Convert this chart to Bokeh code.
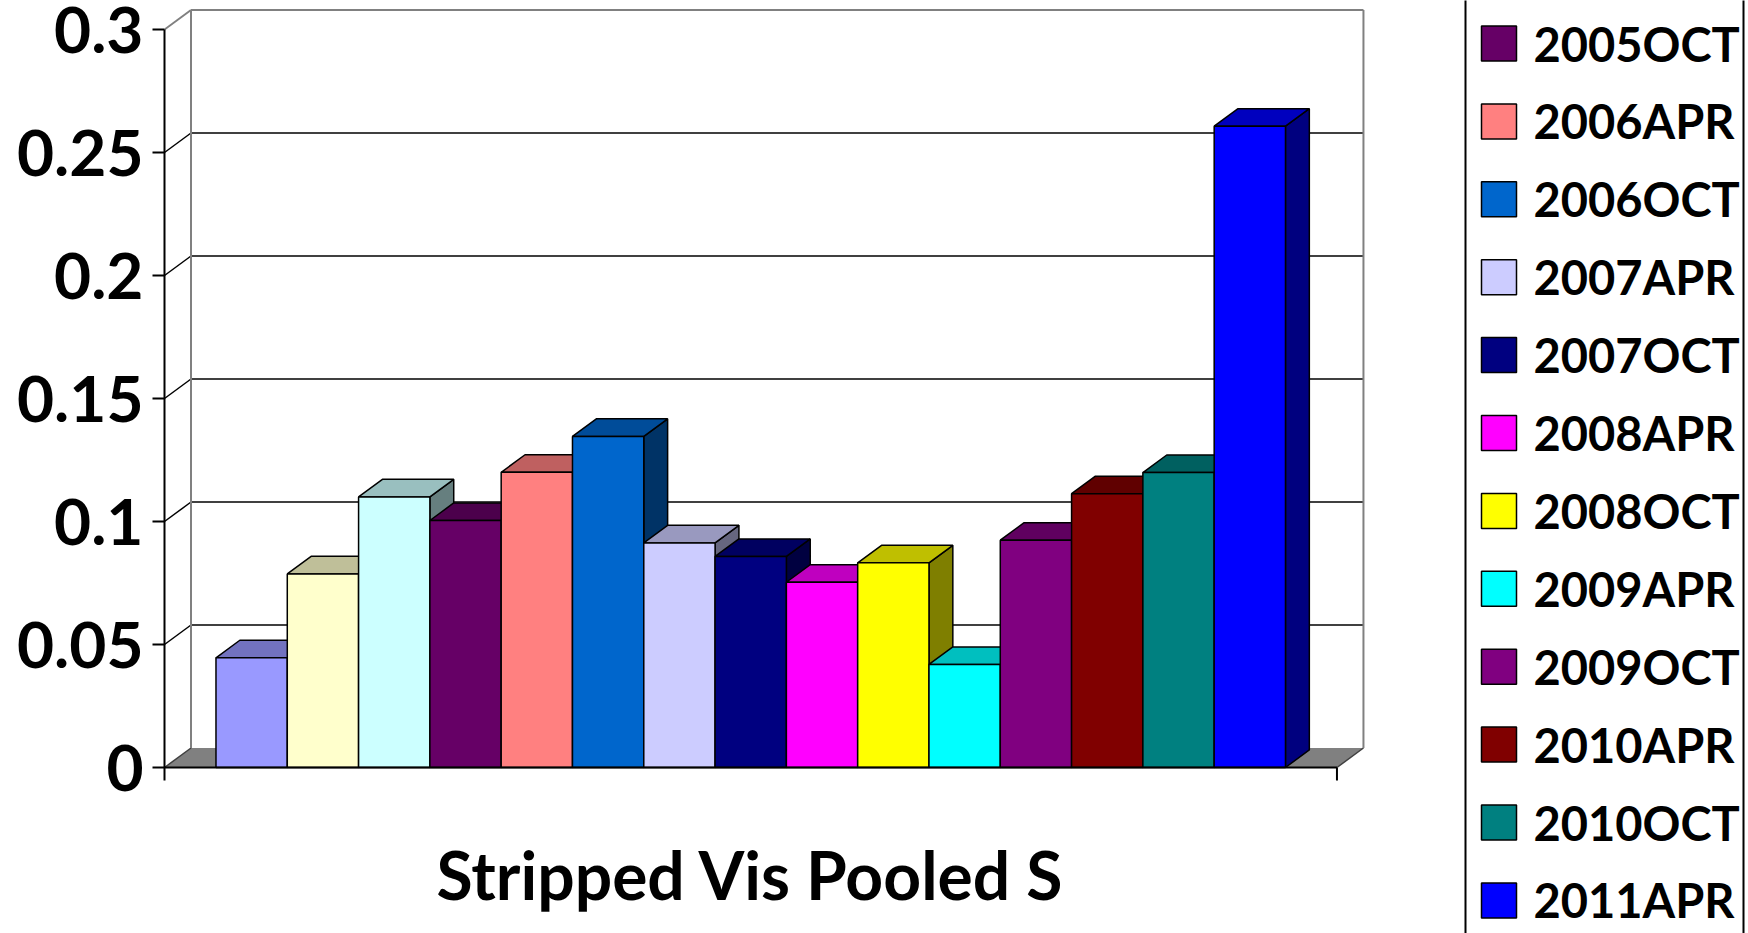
from bokeh.plotting import figure
from bokeh.models import Range1d, LinearAxis, FixedTicker
from bokeh.core.properties import value
from bokeh.embed import file_html
from bokeh.resources import INLINE

# ---- data -------------------------------------------------------------
category = "Stripped Vis Pooled S"
surveys = ["2004APR", "2004OCT", "2005APR", "2005OCT", "2006APR", "2006OCT",
           "2007APR", "2007OCT", "2008APR", "2008OCT", "2009APR", "2009OCT",
           "2010APR", "2010OCT", "2011APR"]
results = [0.0446, 0.0787, 0.110, 0.1004, 0.120, 0.1346, 0.0913, 0.0858,
           0.0753, 0.0832, 0.0419, 0.0924, 0.1113, 0.1199, 0.2607]
colors = ["#9999FF", "#FFFFCC", "#CCFFFF", "#660066", "#FF8080", "#0066CC",
          "#CCCCFF", "#000080", "#FF00FF", "#FFFF00", "#00FFFF", "#800080",
          "#800000", "#008080", "#0000FF"]
y_ticks = [0.0, 0.05, 0.1, 0.15, 0.2, 0.25, 0.3]
y_tick_labels = ["0", "0.05", "0.1", "0.15", "0.2", "0.25", "0.3"]

# ---- layout (screen pixels) --------------------------------------------
W, H = 1748, 933
PLOT_LEFT = 164          # front value axis
BASE_PX = 767            # screen row of value 0
BAR_PX = 71.3            # width of one column
VAL_PX = 2460.0          # pixels per value unit
GAP = 0.722              # side gap, in column widths
DEPTH_PX = (26.5, 19.5)  # floor / wall depth offset
BAR_DEPTH = 0.9          # column depth relative to the floor
TICK_PX = 13
FONT = "Lato"


def px_x(px):
    return -GAP + (px - PLOT_LEFT) / BAR_PX


def px_y(py):
    return (BASE_PX - py) / VAL_PX


def shade(hex_color, k):
    r, g, b = (int(hex_color[i:i + 2], 16) for i in (1, 3, 5))
    return "#%02X%02X%02X" % (int(r * k), int(g * k), int(b * k))


x_range = Range1d(-GAP, -GAP + (W - PLOT_LEFT) / BAR_PX)
y_range = Range1d(-(H - BASE_PX) / VAL_PX, BASE_PX / VAL_PX)

p = figure(width=W, height=H, x_range=x_range, y_range=y_range,
           x_axis_type=None, y_axis_type=None, toolbar_location=None,
           output_backend="svg", min_border_left=PLOT_LEFT, min_border_right=0,
           min_border_top=0, min_border_bottom=0, outline_line_color=None,
           background_fill_color="white", border_fill_color="white")

yaxis = LinearAxis(
    ticker=FixedTicker(ticks=y_ticks),
    bounds=(-TICK_PX / VAL_PX, y_ticks[-1]),
    major_label_overrides={t: s for t, s in zip(y_ticks, y_tick_labels)},
    major_tick_out=12, major_tick_in=0, minor_tick_out=0, minor_tick_in=0,
    axis_line_width=2, axis_line_color="black",
    major_tick_line_width=2, major_tick_line_color="black",
    major_label_standoff=9, major_label_text_font=FONT,
    major_label_text_font_style="bold", major_label_text_font_size="64px",
    major_label_text_color="black")
p.add_layout(yaxis, "left")

n = len(results)
dx, dy = DEPTH_PX[0] / BAR_PX, DEPTH_PX[1] / VAL_PX
bdx, bdy = dx * BAR_DEPTH, dy * BAR_DEPTH
x0, x1 = -GAP, n + GAP
top = y_ticks[-1]

# floor
p.patch([x0, x1, x1 + dx, x0 + dx], [0, 0, dy, dy],
        fill_color="#808080", line_color=None)
p.segment(x0=[x0, x1], y0=[0, 0], x1=[x0 + dx, x1 + dx], y1=[dy, dy],
          line_color="#404040", line_width=1.5)

# gridlines on the back wall and the left wall
inner = [t for t in y_ticks if 0 < t < top]
p.segment(x0=[x0 + dx] * len(inner), y0=[t + dy for t in inner],
          x1=[x1 + dx] * len(inner), y1=[t + dy for t in inner],
          line_color="black", line_width=1.5)
p.segment(x0=[x0] * len(inner), y0=inner,
          x1=[x0 + dx] * len(inner), y1=[t + dy for t in inner],
          line_color="black", line_width=1.5)

# wall edges
p.multi_line(xs=[[x0 + dx, x0 + dx], [x1 + dx, x1 + dx], [x0 + dx, x1 + dx], [x0, x0 + dx]],
             ys=[[dy, top + dy], [dy, top + dy], [top + dy, top + dy], [top, top + dy]],
             line_color="#808080", line_width=2)

# 3-D columns: side, top and front face of each, painted left to right
xs, ys, fills = [], [], []
for i, (v, c) in enumerate(zip(results, colors)):
    xs.append([i + 1, i + 1 + bdx, i + 1 + bdx, i + 1])
    ys.append([0, bdy, v + bdy, v])
    fills.append(shade(c, 0.5))
    xs.append([i, i + 1, i + 1 + bdx, i + bdx])
    ys.append([v, v, v + bdy, v + bdy])
    fills.append(shade(c, 0.75))
    xs.append([i, i + 1, i + 1, i])
    ys.append([0, 0, v, v])
    fills.append(c)
p.patches(xs=xs, ys=ys, fill_color=fills, line_color="black", line_width=1.5)

# category axis line with end ticks
p.segment(x0=[x0, x1], y0=[0, 0], x1=[x1, x1], y1=[0, -TICK_PX / VAL_PX],
          line_color="black", line_width=2)

# category name
p.text(x=[n / 2], y=[px_y(874)], text=[category], text_align="center",
       text_baseline="alphabetic", text_font=value(FONT),
       text_font_style="bold", text_font_size="66px", text_color="black")

# legend (taller than the canvas: only the rows inside it are drawn)
LEG_LEFT, LEG_RIGHT = 1465, 1743
ROW0_PX, ROW_PX = 43 - 3 * 77.9, 77.9
p.quad(left=[px_x(LEG_LEFT)], right=[px_x(LEG_RIGHT)],
       top=[y_range.end + 1], bottom=[y_range.start - 1],
       fill_color="white", line_color="black", line_width=2)
rows = [(s, c, ROW0_PX + k * ROW_PX) for k, (s, c) in enumerate(zip(surveys, colors))]
rows = [r for r in rows if 0 < r[2] < H]
p.rect(x=[px_x(1498.5)] * len(rows), y=[px_y(r[2]) for r in rows],
       width=35, height=35, width_units="screen", height_units="screen",
       fill_color=[r[1] for r in rows], line_color="black", line_width=1.5)
p.text(x=[px_x(1533)] * len(rows), y=[px_y(r[2]) for r in rows],
       text=[r[0] for r in rows], text_align="left", text_baseline="middle",
       text_font=value(FONT), text_font_style="bold", text_font_size="47px",
       text_color="black")

open("out.html", "w").write(file_html(p, INLINE))
